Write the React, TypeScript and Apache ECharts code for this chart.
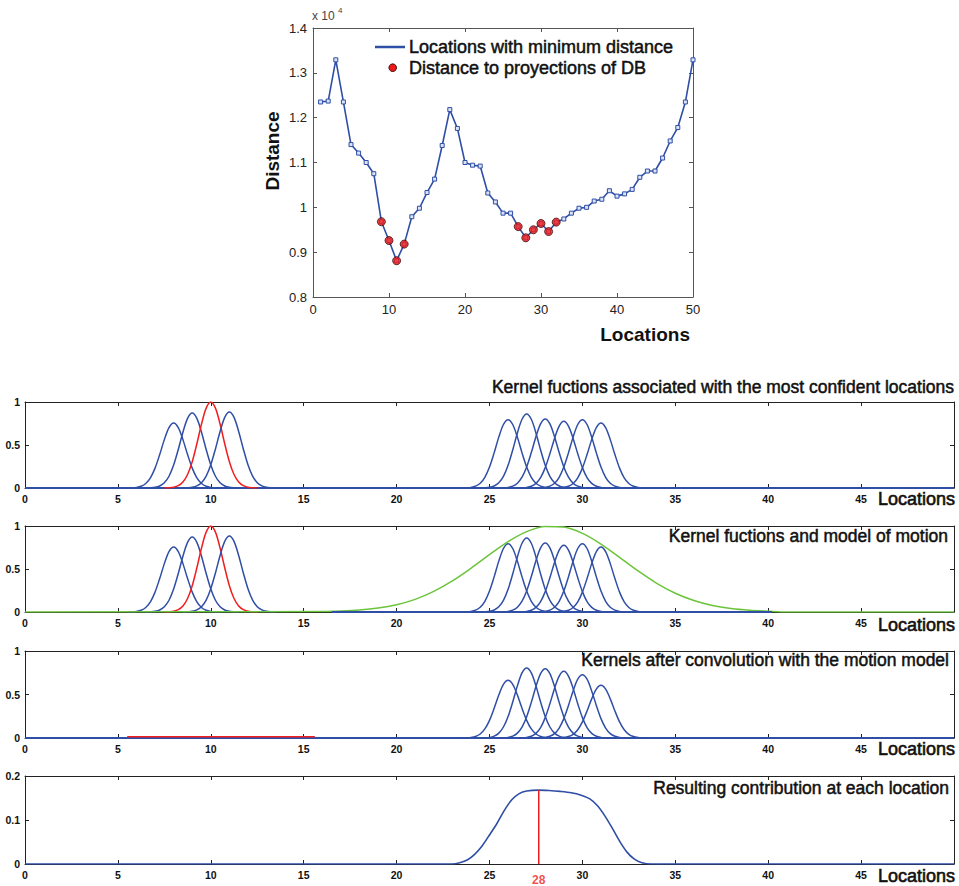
import React, { useEffect, useRef } from 'react';
import * as echarts from 'echarts';

// ---------- Top chart data (distance in units of 10^4) ----------
const locations = [1, 2, 3, 4, 5, 6, 7, 8, 9, 10, 11, 12, 13, 14, 15, 16, 17, 18, 19, 20, 21, 22, 23, 24, 25, 26, 27, 28, 29, 30, 31, 32, 33, 34, 35, 36, 37, 38, 39, 40, 41, 42, 43, 44, 45, 46, 47, 48, 49, 50];
const minDistance = [1.235, 1.237, 1.329, 1.235, 1.140, 1.121, 1.100, 1.075, 0.968, 0.926, 0.881, 0.918, 0.979, 0.998, 1.033, 1.063, 1.138, 1.218, 1.176, 1.100, 1.094, 1.092, 1.032, 1.012, 0.987, 0.987, 0.957, 0.932, 0.950, 0.964, 0.946, 0.967, 0.974, 0.987, 0.998, 1.000, 1.014, 1.018, 1.037, 1.025, 1.030, 1.040, 1.067, 1.081, 1.081, 1.110, 1.148, 1.178, 1.235, 1.329];
const dbLocations = [9, 10, 11, 12, 27, 28, 29, 30, 31, 32];
const dbDistance = [0.968, 0.926, 0.881, 0.918, 0.957, 0.932, 0.950, 0.964, 0.946, 0.967];

// ---------- Kernel panels data ----------
const kernelCenters = [8, 9, 10, 11, 26, 27, 28, 29, 30, 31];
const kernelPeaks = [0.756, 0.872, 1.0, 0.884, 0.795, 0.860, 0.802, 0.775, 0.795, 0.756];
const highlightedKernel = 10;
const kernelOffsets = [-2.5, -2.25, -2, -1.75, -1.5, -1.25, -1, -0.75, -0.5, -0.25, 0, 0.25, 0.5, 0.75, 1, 1.25, 1.5, 1.75, 2, 2.25, 2.5];
const kernelShape = [0, 0.003, 0.009, 0.027, 0.07, 0.157, 0.306, 0.514, 0.744, 0.929, 1, 0.929, 0.744, 0.514, 0.306, 0.157, 0.07, 0.027, 0.009, 0.003, 0];

const motionX = [0, 16, 17, 18, 19, 20, 21, 22, 23, 24, 25, 26, 27, 28, 29, 30, 31, 32, 33, 34, 35, 36, 37, 38, 39, 40, 41, 50];
const motionY = [0, 0.005, 0.011, 0.023, 0.046, 0.085, 0.147, 0.239, 0.361, 0.508, 0.667, 0.818, 0.934, 0.994, 0.987, 0.914, 0.790, 0.636, 0.477, 0.334, 0.218, 0.133, 0.075, 0.040, 0.020, 0.009, 0, 0];

const convolvedCenters = [26, 27, 28, 29, 30, 31];
const convolvedPeaks = [0.663, 0.805, 0.797, 0.766, 0.728, 0.605];
const flatRedX = [5.5, 15.6];
const flatRedY = [0.015, 0.015];

const resultX = [0, 23.0, 23.4, 23.8, 24.2, 24.6, 25.0, 25.4, 25.8, 26.2, 26.6, 27.0, 27.65, 28.2, 28.8, 29.4, 29.9, 30.4, 30.8, 31.2, 31.6, 32.0, 32.4, 32.8, 33.2, 33.7, 50];
const resultY = [0, 0, 0.003, 0.009, 0.022, 0.041, 0.066, 0.092, 0.122, 0.146, 0.160, 0.166, 0.168, 0.167, 0.165, 0.162, 0.157, 0.148, 0.133, 0.110, 0.082, 0.052, 0.027, 0.011, 0.003, 0, 0];
const peakLocation = 27.65;
const peakValue = 0.168;
const peakLabel = '28';

const panelTitles = [
  'Kernel fuctions associated with the most confident locations',
  'Kernel fuctions and model of motion',
  'Kernels after convolution with the motion model',
  'Resulting contribution at each location',
];

const FONT = '"Liberation Sans", Arial, Helvetica, sans-serif';
const BLUE = '#2f4ea6';
const RED = '#f01e1e';
const GREEN = '#6cc43c';

function pairs(xs: number[], ys: number[]) {
  return xs.map((x, i) => [x, ys[i]]);
}
function kernelData(c: number, p: number) {
  return kernelOffsets.map((o, i) => [c + o, p * kernelShape[i]]);
}

function axesFor(gi: number, min: number, max: number, interval: number, color: string, label: any, formatter: any, dir: 'x' | 'y') {
  const common = {
    type: 'value', gridIndex: gi, min, max, interval,
    splitLine: { show: false },
    axisLine: { show: true, onZero: false, lineStyle: { color, width: 1 } },
    axisTick: { show: true, inside: true, length: 4, lineStyle: { color, width: 1 } },
  };
  return [
    { ...common, position: dir === 'x' ? 'bottom' : 'left', axisLabel: { ...label, formatter, showMinLabel: true, showMaxLabel: true } },
    { ...common, position: dir === 'x' ? 'top' : 'right', axisLabel: { show: false } },
  ];
}

export default function App() {
  const ref = useRef<HTMLDivElement>(null);
  useEffect(() => {
    if (!ref.current) return;
    const chart = echarts.init(ref.current, null, { renderer: 'svg' });

    const panelBoxes = [
      { top: 402, height: 86, max: 1, interval: 0.5 },
      { top: 526, height: 86, max: 1, interval: 0.5 },
      { top: 651, height: 87, max: 1, interval: 0.5 },
      { top: 776, height: 88, max: 0.2, interval: 0.1 },
    ];

    const grid: any[] = [{ left: 313, width: 380, top: 28, height: 269, outerBoundsMode: 'none' }];
    panelBoxes.forEach((b) => grid.push({ left: 25, width: 929, top: b.top, height: b.height, outerBoundsMode: 'none' }));

    const topLabel = { color: '#222', fontSize: 13, fontFamily: FONT };
    const panelLabel = { color: '#111', fontSize: 10.5, fontWeight: 'bold', fontFamily: FONT };
    const fmt1 = (v: number) => String(Math.round(v * 10) / 10);
    const fmt2 = (v: number) => String(Math.round(v * 100) / 100);
    const fmtX = (v: number) => (v === 50 ? '' : String(v));

    const xAxis: any[] = [...axesFor(0, 0, 50, 10, '#555', { ...topLabel, margin: 6 }, (v: number) => String(v), 'x')];
    const yAxis: any[] = [...axesFor(0, 0.8, 1.4, 0.1, '#555', { ...topLabel, margin: 6 }, fmt1, 'y')];
    panelBoxes.forEach((b, i) => {
      xAxis.push(...axesFor(i + 1, 0, 50, 5, '#222', { ...panelLabel, margin: 5 }, fmtX, 'x'));
      yAxis.push(...axesFor(i + 1, 0, b.max, b.interval, '#222', { ...panelLabel, margin: 5 }, fmt2, 'y'));
    });

    const ax = (gi: number) => ({ xAxisIndex: gi * 2, yAxisIndex: gi * 2 });
    const line = (gi: number, name: string, data: number[][], color: string, width: number, extra: any = {}) => ({
      type: 'line', name, ...ax(gi), data, symbol: 'none', lineStyle: { color, width }, itemStyle: { color }, ...extra,
    });

    const series: any[] = [];
    series.push({
      type: 'line', name: 'Locations with minimum distance', ...ax(0),
      data: pairs(locations, minDistance),
      symbol: 'rect', symbolSize: 4, showAllSymbol: true,
      lineStyle: { color: BLUE, width: 1.6 },
      itemStyle: { color: '#dbe3f6', borderColor: BLUE, borderWidth: 1 },
      z: 2,
    });
    series.push({
      type: 'scatter', name: 'Distance to proyections of DB', ...ax(0),
      data: pairs(dbLocations, dbDistance),
      symbol: 'circle', symbolSize: 8,
      itemStyle: { color: '#f01818', borderColor: '#3a0c0c', borderWidth: 1 },
      z: 3,
    });

    // Panel 1
    series.push(line(1, 'baseline1', [[0, 0], [50, 0]], BLUE, 2));
    kernelCenters.forEach((c, i) => {
      series.push(line(1, 'kernel ' + c, kernelData(c, kernelPeaks[i]), c === highlightedKernel ? RED : BLUE, 1.5, { smooth: 0.3 }));
    });
    // Panel 2
    kernelCenters.forEach((c, i) => {
      series.push(line(2, 'kernel2 ' + c, kernelData(c, kernelPeaks[i]), c === highlightedKernel ? RED : BLUE, 1.5, { smooth: 0.3 }));
    });
    series.push(line(2, 'motion model', pairs(motionX, motionY), GREEN, 1.5, { smooth: 0.3 }));
    series.push(line(2, 'baseline2', [[16.5, 0], [40.2, 0]], BLUE, 2));
    // Panel 3
    series.push(line(3, 'baseline3', [[0, 0], [50, 0]], BLUE, 2));
    convolvedCenters.forEach((c, i) => {
      series.push(line(3, 'conv ' + c, kernelData(c, convolvedPeaks[i]), BLUE, 1.5, { smooth: 0.3 }));
    });
    series.push(line(3, 'conv flat', pairs(flatRedX, flatRedY), RED, 1.5));
    // Panel 4
    series.push(line(4, 'result', pairs(resultX, resultY), BLUE, 1.6, { smooth: 0.3 }));
    series.push(line(4, 'peak', [[peakLocation, 0], [peakLocation, peakValue]], RED, 1.5));
    series.push({
      type: 'scatter', name: 'peak label', ...ax(4), data: [[peakLocation, 0]],
      symbol: 'circle', symbolSize: 1, itemStyle: { color: RED },
      label: { show: true, position: 'bottom', distance: 9, formatter: peakLabel, color: RED, fontWeight: 'bold', fontSize: 12, fontFamily: FONT },
      z: 5,
    });

    const txt = (text: string, x: number, y: number, size: number, weight: string, align: string, extra: any = {}, thick = 0) => ({
      type: 'text', x, y, silent: true,
      style: {
        text, fill: '#111', fontSize: size, fontWeight: weight, fontFamily: FONT, align, verticalAlign: 'middle',
        ...(thick ? { stroke: '#111', lineWidth: thick } : {}),
      },
      ...extra,
    });

    const graphic: any[] = [
      { type: 'text', x: 312, y: 16, silent: true, style: { text: 'x 10', fill: '#444', fontSize: 12, fontFamily: FONT, align: 'left', verticalAlign: 'middle' } },
      { type: 'text', x: 338, y: 10, silent: true, style: { text: '4', fill: '#444', fontSize: 8, fontFamily: FONT, align: 'left', verticalAlign: 'middle' } },
      txt('Distance', 272, 151, 19, 'bold', 'center', { rotation: Math.PI / 2 }),
      txt('Locations', 690, 334, 19, 'bold', 'right'),
      { type: 'line', shape: { x1: 375, y1: 47, x2: 405, y2: 47 }, style: { stroke: BLUE, lineWidth: 2.5 }, silent: true },
      { type: 'circle', shape: { cx: 392.7, cy: 67.7, r: 3.8 }, style: { fill: '#f01818', stroke: '#3a0c0c', lineWidth: 1 }, silent: true },
      txt('Locations with minimum distance', 409, 47, 18, 'normal', 'left', {}, 0.5),
      txt('Distance to proyections of DB', 409, 67.7, 18, 'normal', 'left', {}, 0.5),
      txt(panelTitles[0], 954, 387, 17.5, 'normal', 'right', {}, 0.5),
      txt(panelTitles[1], 948, 536, 17.5, 'normal', 'right', {}, 0.5),
      txt(panelTitles[2], 949, 659.5, 17.5, 'normal', 'right', {}, 0.5),
      txt(panelTitles[3], 949, 788, 17.5, 'normal', 'right', {}, 0.5),
      txt('Locations', 955, 499, 18, 'normal', 'right', {}, 0.6),
      txt('Locations', 955, 625, 18, 'normal', 'right', {}, 0.6),
      txt('Locations', 955, 749, 18, 'normal', 'right', {}, 0.6),
      txt('Locations', 955, 876, 18, 'normal', 'right', {}, 0.6),
    ];

    chart.setOption({
      animation: false,
      backgroundColor: '#fff',
      grid, xAxis, yAxis, series, graphic,
    });
    return () => chart.dispose();
  }, []);
  return <div ref={ref} style={{ position: 'fixed', left: 0, top: 0, width: 959, height: 886, background: '#fff' }} />;
}
